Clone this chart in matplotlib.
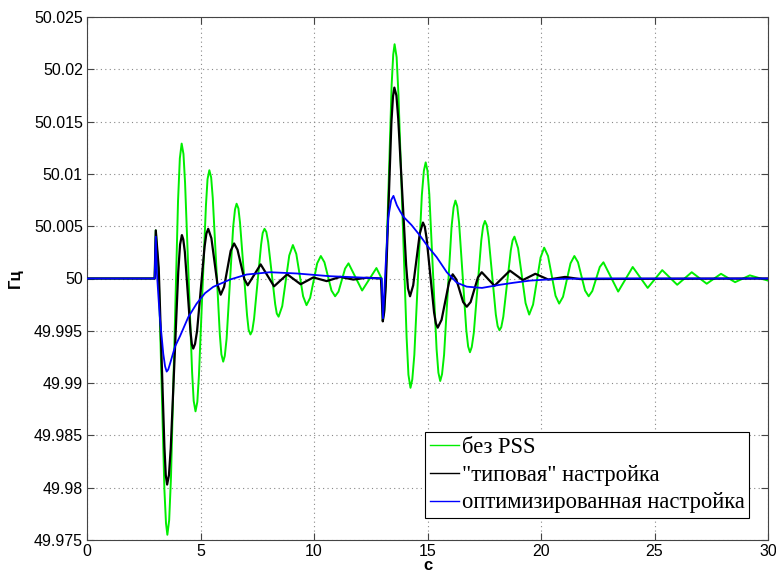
import matplotlib
matplotlib.use("Agg")
import matplotlib.pyplot as plt
import numpy as np

base_hz = 50.0
# deviations from 50 Hz in mHz
green_t = [0, 2.98, 3.03, 3.16, 3.41, 3.48, 3.54, 3.62, 3.70, 4.01, 4.09, 4.17, 4.25, 4.32, 4.63, 4.70, 4.78, 4.86,
           4.93, 5.24, 5.31, 5.39, 5.47, 5.54, 5.85, 5.92, 6.00, 6.07, 6.15, 6.44, 6.52, 6.59, 6.67, 6.74, 7.05, 7.12,
           7.20, 7.28, 7.36, 7.67, 7.74, 7.82, 7.90, 7.98, 8.29, 8.36, 8.44, 8.60, 8.91, 9.07, 9.22, 9.52, 9.67,
           9.83, 10.14, 10.30, 10.46, 10.77, 10.93, 11.08, 11.37, 11.52, 12.12, 12.75, 12.98, 13.03, 13.10, 13.16,
           13.42, 13.49, 13.55, 13.64, 13.72, 14.08, 14.16, 14.25, 14.33, 14.42, 14.75, 14.84, 14.92, 15.00, 15.08,
           15.40, 15.48, 15.56, 15.64, 15.73, 16.06, 16.15, 16.23, 16.31, 16.39, 16.71, 16.79, 16.87, 16.95, 17.04,
           17.37, 17.45, 17.53, 17.61, 17.69, 18.01, 18.09, 18.17, 18.25, 18.34, 18.67, 18.75, 18.83, 18.99, 19.32,
           19.48, 19.65, 19.98, 20.14, 20.31, 20.64, 20.80, 20.97, 21.30, 21.47, 21.63, 21.94, 22.10, 22.26, 22.59,
           22.75, 23.40, 24.04, 24.70, 25.34, 26.00, 26.64, 27.30, 27.93, 28.55, 29.20, 30.0]
green_d = [0, 0, 4.6, 0.3, -20.2, -23.4, -24.5, -23.1, -19.0, 7.4, 11.5, 12.9, 11.9, 9.15, -8.95, -11.7, -12.7,
           -11.8, -9.3, 7.0, 9.5, 10.35, 9.65, 7.7, -5.3, -7.25, -7.95, -7.4, -5.75, 4.95, 6.6, 7.15, 6.7, 5.35,
           -3.5, -4.9, -5.35, -5.0, -3.85, 3.25, 4.35, 4.75, 4.45, 3.5, -2.45, -3.35, -3.65, -2.65, 2.2, 3.2, 2.35,
           -1.7, -2.55, -1.85, 1.45, 2.15, 1.55, -1.15, -1.7, -1.25, 0.95, 1.45, -1.15, 1.0, 0.0, -4.0, -3.0, -0.1,
           18.5, 21.4, 22.4, 21.15, 17.6, -5.65, -9.2, -10.45, -9.65, -7.3, 7.95, 10.3, 11.1, 10.3, 8.05, -6.75,
           -9.0, -9.8, -9.15, -7.3, 4.95, 6.8, 7.45, 6.9, 5.35, -4.95, -6.5, -7.05, -6.55, -5.2, 3.65, 5.0, 5.5,
           5.1, 3.95, -3.45, -4.55, -4.95, -4.65, -3.65, 2.7, 3.65, 4.0, 2.9, -2.35, -3.45, -2.5, 2.0, 2.95, 2.15,
           -1.65, -2.4, -1.75, 1.45, 2.15, 1.55, -1.15, -1.7, -1.2, 1.1, 1.55, -1.25, 1.1, -0.9, 0.8, -0.6, 0.6,
           -0.5, 0.45, -0.35, 0.3, -0.2]

black_t = [0, 2.98, 3.03, 3.16, 3.41, 3.47, 3.53, 3.61, 3.69, 4.02, 4.10, 4.18, 4.24, 4.31, 4.56, 4.62, 4.68, 4.76,
           4.85, 5.18, 5.26, 5.34, 5.48, 5.75, 5.89, 6.04, 6.33, 6.48, 6.63, 6.93, 7.08, 7.65, 8.24, 8.82, 9.41,
           9.97, 10.56, 11.15, 11.73, 12.32, 12.95, 13.03, 13.09, 13.16, 13.41, 13.48, 13.54, 13.63, 13.71, 14.06,
           14.14, 14.23, 14.37, 14.66, 14.80, 14.88, 14.96, 15.29, 15.37, 15.45, 15.62, 15.95, 16.11, 16.27, 16.57,
           16.73, 16.90, 17.22, 17.39, 17.95, 18.63, 19.20, 19.75, 20.32, 21.06, 21.70, 30.0]
black_d = [0, 0, 4.6, 1.0, -16.1, -18.8, -19.7, -18.8, -16.2, 0.65, 3.25, 4.15, 3.75, 2.55, -5.1, -6.3, -6.7,
           -6.25, -5.0, 3.05, 4.3, 4.75, 3.85, -0.6, -1.55, -0.8, 2.65, 3.35, 2.75, -0.05, -0.65, 1.35, -0.75, 0.4,
           -0.55, 0.1, -0.25, 0.15, -0.1, 0.07, 0.0, -4.1, -3.25, -0.8, 14.95, 17.4, 18.25, 17.5, 15.3, 1.25, -0.95,
           -1.7, -0.65, 4.3, 5.35, 4.95, 3.85, -3.25, -4.3, -4.7, -3.95, -0.35, 0.4, -0.1, -2.25, -2.7, -2.25, 0.1,
           0.6, -0.7, 0.75, -0.15, 0.45, -0.1, 0.15, -0.05, 0.0]

blue_t = [0, 2.98, 3.03, 3.08, 3.2, 3.36, 3.44, 3.51, 3.58, 3.65, 3.88, 4.1, 4.46, 4.83, 5.2, 5.56, 6.3, 7.03, 8.06,
          9.24, 10.7, 12.0, 12.98, 13.04, 13.15, 13.27, 13.4, 13.5, 13.65, 13.8, 13.94, 14.3, 14.67, 15.0, 15.4,
          15.85, 16.29, 16.73, 17.4, 18.19, 18.78, 19.52, 20.25, 21.0, 22.5, 30.0]
blue_d = [0, 0, 4.0, 0.5, -3.5, -7.2, -8.4, -8.9, -8.7, -8.2, -6.5, -5.5, -3.7, -2.4, -1.4, -0.8, -0.1, 0.38,
          0.6, 0.48, 0.22, 0.1, 0.0, -3.8, 1.0, 5.8, 7.5, 7.9, 7.0, 6.4, 5.9, 5.1, 4.1, 3.1, 2.05, 0.6, -0.4,
          -0.78, -0.9, -0.6, -0.41, -0.2, -0.1, -0.03, 0.0, 0.0]

series_labels = ['без PSS', '"типовая" настройка', 'оптимизированная настройка']
x_ticks = [0, 5, 10, 15, 20, 25, 30]
y_ticks = [49.975, 49.98, 49.985, 49.99, 49.995, 50.0, 50.005, 50.01, 50.015, 50.02, 50.025]
y_tick_labels = ['49.975', '49.98', '49.985', '49.99', '49.995', '50', '50.005', '50.01', '50.015', '50.02', '50.025']

fig = plt.figure(figsize=(7.76, 5.73), dpi=100)
ax = fig.add_axes([87/776, 1-540/573, 681/776, 523/573])


def hz(d):
    return base_hz + np.asarray(d) / 1000.0


ax.plot(green_t, hz(green_d), color='#00ee00', lw=1.4, label=series_labels[0], zorder=3)
ax.plot(black_t, hz(black_d), color='black', lw=1.6, label=series_labels[1], zorder=4)
ax.plot(blue_t, hz(blue_d), color='#0000ff', lw=1.3, label=series_labels[2], zorder=5)

ax.set_xlim(0, 30)
ax.set_ylim(49.975, 50.025)
ax.set_xticks(x_ticks)
ax.set_xticklabels([str(v) for v in x_ticks], fontfamily='Liberation Sans', fontsize=11.5)
ax.set_yticks(y_ticks)
ax.set_yticklabels(y_tick_labels, fontfamily='Liberation Sans', fontsize=11.5)
ax.tick_params(direction='in', top=True, right=True, length=5, width=0.8, color='#444444', pad=3)
ax.grid(True, linestyle=(0, (1, 3)), color='#888888', linewidth=0.8)
for s in ax.spines.values():
    s.set_color('#444444')
    s.set_linewidth(0.8)

ax.set_xlabel('с', fontfamily='Liberation Sans', fontweight='bold', fontsize=12, labelpad=-1)
ax.set_ylabel('Гц', fontfamily='Liberation Sans', fontweight='bold', fontsize=12, labelpad=8)

leg = ax.legend(loc='lower right', bbox_to_anchor=((749-87)/681, (540-518)/523), borderaxespad=0,
                prop={'family': 'Liberation Serif', 'size': 16.3}, frameon=True, fancybox=False,
                handlelength=1.28, handletextpad=0.12, borderpad=0.2, labelspacing=0.3)
leg.get_frame().set_edgecolor('black')
leg.get_frame().set_linewidth(0.8)
leg.get_frame().set_alpha(1)
for line in leg.get_lines():
    line.set_linewidth(1.0)

fig.savefig('out.png', dpi=100)
